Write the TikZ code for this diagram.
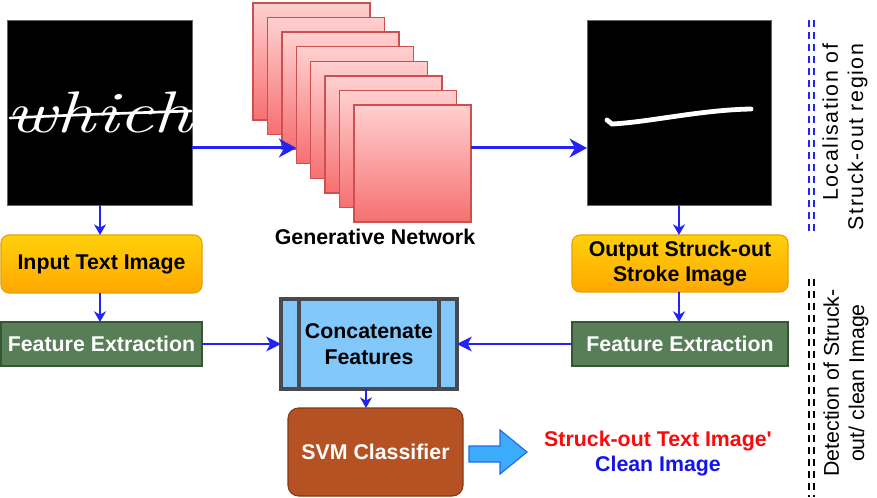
\documentclass[tikz,border=0pt]{standalone}
\usepackage{fontspec}
\newfontfamily\labelfont{Liberation Sans}
\newfontfamily\spacedfont[LetterSpace=7.5]{Liberation Sans}
\usetikzlibrary{arrows.meta,calc}

\definecolor{flowblue}{RGB}{35,35,245}
\definecolor{layertop}{RGB}{255,208,208}
\definecolor{layerbot}{RGB}{246,112,112}
\definecolor{layerborder}{RGB}{205,80,80}
\definecolor{ambertop}{RGB}{255,208,10}
\definecolor{amberbot}{RGB}{255,168,0}
\definecolor{amberborder}{RGB}{228,160,0}
\definecolor{featgreen}{RGB}{88,126,88}
\definecolor{featborder}{RGB}{55,85,55}
\definecolor{catfill}{RGB}{130,200,250}
\definecolor{catborder}{RGB}{72,74,80}
\definecolor{svmfill}{RGB}{180,82,36}
\definecolor{svmborder}{RGB}{135,55,20}
\definecolor{bigarrowfill}{RGB}{60,172,250}
\definecolor{bigarrowborder}{RGB}{30,110,230}
\definecolor{stuckred}{RGB}{250,10,10}
\definecolor{cleanblue}{RGB}{20,20,235}

\tikzset{
  imgbox/.style={fill=black, draw=black!60, line width=0.4pt, inner sep=0pt, outer sep=0pt,
    minimum width=138.75pt, minimum height=138.75pt},
  layer/.style={draw=layerborder, line width=1.1pt, top color=layertop, bottom color=layerbot,
    minimum width=87.75pt, minimum height=87.75pt, inner sep=0pt, outer sep=0pt, anchor=north west},
  boxtext/.style={font=\labelfont\fontsize{16}{19}\selectfont\bfseries, align=center, inner sep=0pt, outer sep=0pt},
  amberbox/.style={boxtext, rounded corners=6pt, draw=amberborder, line width=0.8pt,
    top color=ambertop, bottom color=amberbot},
  featbox/.style={boxtext, text=white, fill=featgreen, draw=featborder, line width=0.8pt, minimum height=33pt},
  catbox/.style={boxtext, fill=catfill, draw=catborder, line width=2.4pt, minimum width=132pt, minimum height=67.5pt},
  svmbox/.style={boxtext, text=white, fill=svmfill, draw=svmborder, line width=0.8pt, rounded corners=8pt,
    minimum width=131.25pt, minimum height=66pt},
  flow/.style={draw=flowblue, line width=1.5pt, -{Stealth[length=8pt,width=9pt,inset=2.5pt]}},
  mainflow/.style={draw=flowblue, line width=2.25pt, -{Stealth[length=13pt,width=14pt,inset=4pt]}},
  sideflow/.style={draw=flowblue, line width=1.5pt, -{Stealth[length=11pt,width=11pt,inset=3pt]}},
  bracketline/.style={line width=1.6pt, dash pattern=on 5.25pt off 3.75pt},
  sidelabel/.style={rotate=90, font=\labelfont\fontsize{16}{19}\selectfont, inner sep=0pt},
}

\begin{document}
\begin{tikzpicture}[x=0.75pt,y=-0.75pt]
  \useasboundingbox[fill=white] (0,0) rectangle (877,498);

  % input handwritten word image
  \node[imgbox] (limg) at (99.5,112.5) {};
  \begin{scope}
    \clip (7,20) rectangle (192,205);
    \node[text=white, xscale=1.32, font=\rmfamily\itshape\fontsize{44}{44}\selectfont] (word) at (99,112) {which};
    \draw[white, line width=2pt, line cap=round] (10,118) .. controls (70,115) and (130,113) .. (191,111);
  \end{scope}

  % generative network: stacked feature maps
  \foreach \k in {0,...,7}
    \node[layer] (sq\k) at ({253+14.43*\k},{3+14.57*\k}) {};
  \node[boxtext] (genlbl) at (375,237) {Generative Network};

  % output stroke image
  \node[imgbox, minimum width=138pt] (rimg) at (679,112.5) {};
  \draw[white, line width=3.6pt, line cap=round] (607,120) -- (612,124) .. controls (650,122) and (700,110) .. (751,109);

  % left branch
  \node[amberbox, minimum width=150.75pt, minimum height=43.5pt] (inbox) at (101.5,264) {Input Text Image};
  \node[featbox, minimum width=150.75pt] (lfe) at (101.5,344) {Feature Extraction};

  % right branch
  \node[amberbox, minimum width=162pt, minimum height=42.75pt] (outbox) at (680,263.5) {Output Struck-out\\Stroke Image};
  \node[featbox, minimum width=162pt] (rfe) at (680,344) {Feature Extraction};

  % concatenation block with side bars
  \node[catbox] (cat) at (369,344) {Concatenate\\Features};
  \draw[catborder, line width=2.4pt] (cat.north west) ++(18,0) -- ++(0,90)
                                     (cat.north east) ++(-18,0) -- ++(0,90);

  % classifier
  \node[svmbox] (svm) at (375.5,452) {SVM Classifier};

  % block arrow to the decision
  \draw[fill=bigarrowfill, draw=bigarrowborder, line width=0.9pt, line join=miter]
    (469,446) -- (500,446) -- (500,430) -- (527,452) -- (500,474) -- (500,462) -- (469,462) -- cycle;
  \node[boxtext, text=stuckred] (res1) at (658,441) {Struck-out Text Image'};
  \node[boxtext, text=cleanblue] (res2) at (658,466) {Clean Image};

  % connectors
  \coordinate (a1) at (192,148);
  \draw[mainflow] (a1) -- (a1 -| sq3.west);
  \draw[mainflow] (a1 -| sq7.east) -- (a1 -| rimg.west);
  \draw[flow] (limg.south -| 100,0) -- (inbox.north -| 100,0);
  \draw[flow] (inbox.south -| 100,0) -- (lfe.north -| 100,0);
  \draw[flow] (rimg.south -| 679,0) -- (outbox.north -| 679,0);
  \draw[flow] (outbox.south -| 679,0) -- (rfe.north -| 679,0);
  \draw[sideflow] (lfe.east) -- (cat.west);
  \draw[sideflow] (rfe.west) -- (cat.east);
  \draw[flow] (cat.south -| 366,0) -- (svm.north -| 366,0);

  % stage brackets on the right
  \draw[bracketline, draw=flowblue] (809,20) -- (809,232) (814,20) -- (814,232);
  \draw[bracketline, draw=black] (809,279) -- (809,497) (814,279) -- (814,497);
  \node[sidelabel, align=right, font=\spacedfont\fontsize{16}{19}\selectfont] (loclbl) at (845,137) {Localisation of\\Struck-out region};
  \node[sidelabel, align=center] (detlbl) at (846,383) {Detection of Struck-\\out/ clean Image};
\end{tikzpicture}
\end{document}
